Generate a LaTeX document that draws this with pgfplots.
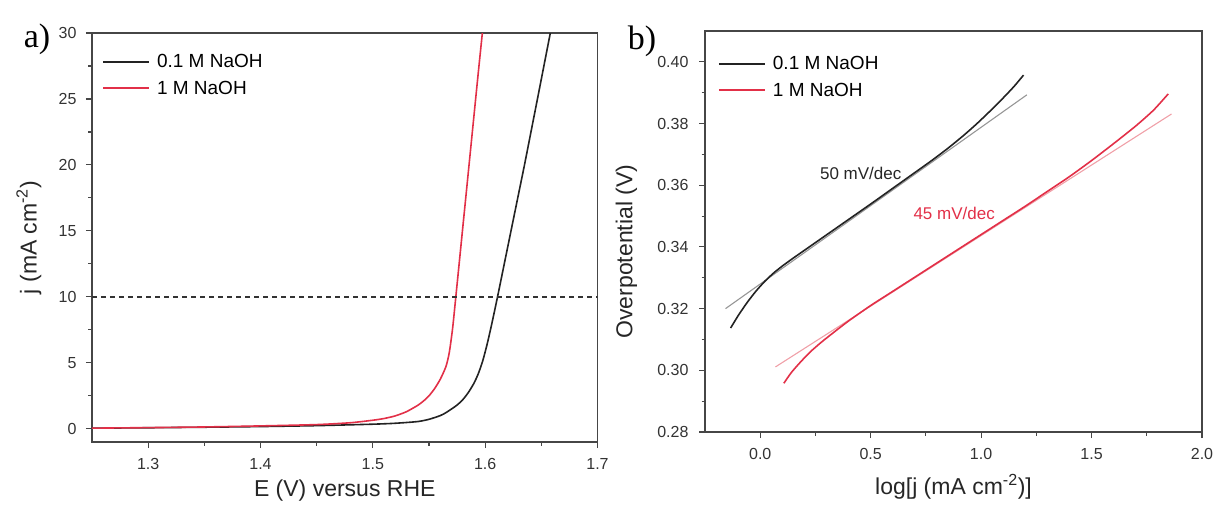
\documentclass[border=0pt]{standalone}
\usepackage{fontspec}
\setmainfont{Liberation Sans}
\newfontfamily\letterfont{Liberation Serif}
\usepackage{pgfplots}
\pgfplotsset{compat=1.18}
\definecolor{myred}{RGB}{226,48,72}
\definecolor{myredfit}{RGB}{240,160,168}
\definecolor{fitgray}{RGB}{150,150,150}
\definecolor{axgray}{RGB}{70,70,70}
\definecolor{curveblack}{RGB}{35,35,35}
\pgfplotsset{
  mystyle/.style={
    scale only axis,
    axis line style={axgray, line width=1.2pt},
    tick style={axgray, line width=1.1pt},
    tick align=outside,
    xtick pos=bottom, ytick pos=left,
    major tick length=6pt, minor tick length=3.5pt,
    minor x tick num=1, minor y tick num=1,
    tick label style={font=\fontsize{16}{19}\selectfont, text=black!80},
    xticklabel style={yshift=-7pt},
    label style={font=\fontsize{23}{27}\selectfont, text=black!85},
    /pgf/number format/assume math mode=true,
    legend cell align=left,
    legend style={draw=none, fill=none, font=\fontsize{19}{22}\selectfont,
      inner sep=0pt, outer sep=0pt, row sep=12pt, column sep=7pt,
      nodes={inner sep=0pt}, anchor=north west},
    legend image code/.code={\draw[#1, line width=2pt] (0pt,0pt) -- (46pt,0pt);},
  }
}
\begin{document}
\begin{tikzpicture}
\useasboundingbox (0,0) rectangle (1221pt,507pt);
% ---------------- panel a ----------------
\begin{axis}[mystyle,
  at={(92pt,65pt)}, anchor=south west,
  width=505.5pt, height=409pt,
  xmin=1.25, xmax=1.7, ymin=-1, ymax=30,
  xtick={1.3,1.4,1.5,1.6,1.7},
  ytick={0,5,10,15,20,25,30},
  xticklabel style={/pgf/number format/fixed, /pgf/number format/precision=1},
  yticklabel style={xshift=-6pt},
  xlabel={E (V) versus RHE},
  ylabel={j (mA cm\textsuperscript{-2})},
  xlabel style={at={(axis description cs:0.5,-0.119)}, anchor=center},
  ylabel style={at={(axis description cs:-0.125,0.5)}, anchor=center},
  legend style={at={(axis description cs:0.0198,0.948)}},
]
\addplot[curveblack, line width=1.6pt, smooth, tension=0.4] coordinates {
(1.25,0.05) (1.30,0.08) (1.35,0.12) (1.40,0.17) (1.45,0.24) (1.50,0.35)
(1.52,0.42) (1.54,0.55) (1.55,0.72) (1.56,1.0) (1.565,1.22) (1.57,1.5)
(1.575,1.8) (1.58,2.2) (1.585,2.75) (1.59,3.45) (1.594,4.2) (1.598,5.2)
(1.602,6.5) (1.606,8.0) (1.611,10.0) (1.617,12.5) (1.623,15.0) (1.629,17.5)
(1.635,20.0) (1.641,22.6) (1.647,25.2) (1.6525,27.6) (1.658,30)
};
\addlegendentry{0.1 M NaOH}
\addplot[myred, line width=1.6pt, smooth, tension=0.4] coordinates {
(1.25,0.05) (1.30,0.09) (1.35,0.14) (1.40,0.22) (1.45,0.32) (1.48,0.46)
(1.50,0.65) (1.51,0.78) (1.52,0.98) (1.53,1.30) (1.54,1.78) (1.545,2.10)
(1.55,2.50) (1.555,3.05) (1.56,3.75) (1.565,4.7) (1.568,5.75) (1.571,7.6)
(1.574,10.1) (1.578,13.5) (1.582,16.9) (1.586,20.3) (1.590,23.7)
(1.594,27.1) (1.5975,30)
};
\addlegendentry{1 M NaOH}
\addplot[black!80, line width=1.3pt, dash pattern=on 5pt off 4pt, forget plot] coordinates {(1.25,10) (1.7,10)};
\end{axis}
% ---------------- panel b ----------------
\begin{axis}[mystyle,
  at={(705pt,75pt)}, anchor=south west,
  width=497pt, height=401pt,
  xmin=-0.25, xmax=2.0, ymin=0.28, ymax=0.41,
  xtick={0,0.5,1.0,1.5,2.0},
  ytick={0.28,0.30,0.32,0.34,0.36,0.38,0.40},
  xticklabel style={/pgf/number format/fixed, /pgf/number format/fixed zerofill, /pgf/number format/precision=1},
  yticklabel style={xshift=-7pt, /pgf/number format/fixed, /pgf/number format/fixed zerofill, /pgf/number format/precision=2},
  scaled y ticks=false,
  xlabel={log[j (mA cm\textsuperscript{-2})]},
  ylabel={Overpotential (V)},
  xlabel style={at={(axis description cs:0.5,-0.137)}, anchor=center},
  ylabel style={at={(axis description cs:-0.158,0.45)}, anchor=center},
  legend style={at={(axis description cs:0.026,0.937)}},
]
\addplot[fitgray, line width=1.1pt, forget plot] coordinates {(-0.157,0.3200) (1.207,0.3893)};
\addplot[myredfit, line width=1.1pt, forget plot] coordinates {(0.069,0.3011) (1.862,0.3831)};
\addplot[curveblack, line width=1.6pt, smooth, tension=0.4] coordinates {
(-0.134,0.3137) (-0.10,0.3177) (-0.06,0.3219) (-0.02,0.3256) (0.02,0.3288)
(0.06,0.3315) (0.10,0.3338) (0.15,0.3364) (0.20,0.3389) (0.30,0.3439)
(0.40,0.3489) (0.50,0.3539) (0.60,0.3590) (0.70,0.3641) (0.78,0.3682)
(0.85,0.3720) (0.92,0.3761) (0.98,0.3799) (1.04,0.3840) (1.10,0.3883)
(1.15,0.3921) (1.192,0.3957)
};
\addlegendentry{0.1 M NaOH}
\addplot[myred, line width=1.6pt, smooth, tension=0.4] coordinates {
(0.107,0.2958) (0.14,0.2992) (0.18,0.3025) (0.227,0.3060) (0.28,0.3093)
(0.34,0.3127) (0.40,0.3160) (0.50,0.3210) (0.60,0.3256) (0.70,0.3302)
(0.80,0.3348) (0.90,0.3394) (1.00,0.3440) (1.10,0.3486) (1.20,0.3532)
(1.30,0.3580) (1.40,0.3628) (1.50,0.3680) (1.60,0.3735) (1.70,0.3792)
(1.78,0.3843) (1.847,0.3896)
};
\addlegendentry{1 M NaOH}
\node[font=\fontsize{17}{20}\selectfont, text=black!85] at (axis cs:0.455,0.3637) {50 mV/dec};
\node[font=\fontsize{17}{20}\selectfont, text=myred] at (axis cs:0.878,0.3508) {45 mV/dec};
\end{axis}
% panel letters
\node[font=\letterfont\fontsize{34}{40}\selectfont] at (37pt,468pt) {a)};
\node[font=\letterfont\fontsize{34}{40}\selectfont] at (642pt,466pt) {b)};
\end{tikzpicture}
\end{document}
